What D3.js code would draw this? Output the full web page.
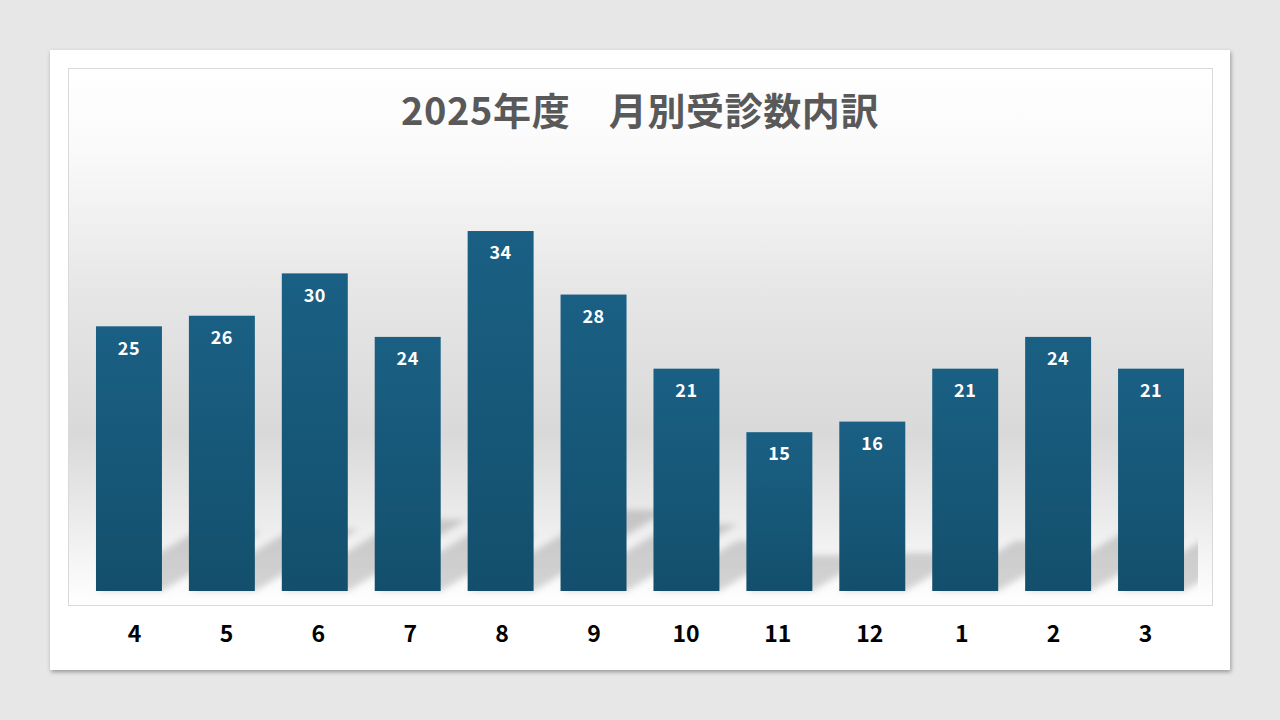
<!DOCTYPE html>
<html><head><meta charset="utf-8">
<script src="https://cdn.jsdelivr.net/npm/d3@7"></script>
<style>
html,body{margin:0;padding:0;background:#e7e7e7;}
svg{display:block;}
text{font-family:"Noto Sans CJK JP","Noto Sans",sans-serif;}
</style></head>
<body>
<svg id="chart" width="1280" height="720"></svg>
<script>
const titleText = "2025年度　月別受診数内訳";
const months = ["4","5","6","7","8","9","10","11","12","1","2","3"];
const visits = [25,26,30,24,34,28,21,15,16,21,24,21];

const svg = d3.select("#chart");
const defs = svg.append("defs");

// card shadow
const cs = defs.append("filter").attr("id","cardShadow").attr("x","-5%").attr("y","-5%").attr("width","110%").attr("height","115%");
cs.append("feDropShadow").attr("dx",1).attr("dy",2).attr("stdDeviation",2).attr("flood-color","#000").attr("flood-opacity",0.35);

// plot background gradient
const bg = defs.append("linearGradient").attr("id","bgGrad").attr("x1",0).attr("y1",0).attr("x2",0).attr("y2",1);
[[0,"#ffffff"],[0.15,"#fafafa"],[0.42,"#e6e6e6"],[0.68,"#d9d9d9"],[0.82,"#e9e9e9"],[0.93,"#f7f7f7"],[1,"#ffffff"]]
  .forEach(([o,c])=>bg.append("stop").attr("offset",o).attr("stop-color",c));

// bar gradient
const bgBar = defs.append("linearGradient").attr("id","barGrad").attr("x1",0).attr("y1",0).attr("x2",0).attr("y2",1);
bgBar.append("stop").attr("offset",0).attr("stop-color","#1a6084");
bgBar.append("stop").attr("offset",1).attr("stop-color","#134f6c");

// shadow blur
const sb = defs.append("filter").attr("id","shBlur").attr("x","-30%").attr("y","-30%").attr("width","160%").attr("height","160%");
sb.append("feGaussianBlur").attr("stdDeviation",3);

defs.append("clipPath").attr("id","plotClip").append("rect")
  .attr("x",69).attr("y",69).attr("width",1129).attr("height",536);

// card
svg.append("rect").attr("x",50).attr("y",50).attr("width",1180).attr("height",620)
  .attr("fill","#ffffff").attr("filter","url(#cardShadow)");

// plot frame
svg.append("rect").attr("x",68.5).attr("y",68.5).attr("width",1144).attr("height",537)
  .attr("fill","url(#bgGrad)").attr("stroke","#d9d9d9").attr("stroke-width",1);

// scales
const baseline = 591;
const x = d3.scaleBand().domain(months).range([82.5,1197.5]).paddingInner(0.29).paddingOuter(0.145);
const y = d3.scaleLinear().domain([0,40]).range([baseline, baseline - 423.5]);
const xLab = d3.scalePoint().domain(months).range([134,1145]);

const data = months.map((m,i)=>({m, v:visits[i]}));

// perspective shadows (cast to the upper right)
svg.append("g").attr("clip-path","url(#plotClip)")
  .selectAll("path").data(data).join("path")
  .attr("d", d=>{
    const x0 = x(d.m), x1 = x0 + x.bandwidth();
    const H = baseline - y(d.v);
    const h = H*0.225, dx = h/0.6;
    return `M${x0},${baseline}L${x1},${baseline}L${x1+dx},${baseline-h}L${x0+dx},${baseline-h}Z`;
  })
  .attr("fill","#000").attr("fill-opacity",0.16).attr("filter","url(#shBlur)");

// bars
svg.append("g").selectAll("rect").data(data).join("rect")
  .attr("x", d=>x(d.m)).attr("width", x.bandwidth())
  .attr("y", d=>y(d.v)).attr("height", d=>baseline - y(d.v))
  .attr("fill","url(#barGrad)");

// value labels
svg.append("g").selectAll("text").data(data).join("text")
  .attr("x", d=>x(d.m)+x.bandwidth()/2)
  .attr("y", d=>y(d.v)+22)
  .attr("dy","0.35em")
  .attr("text-anchor","middle")
  .attr("fill","#ffffff").attr("font-weight",700).attr("font-size",18).attr("letter-spacing",0.5)
  .text(d=>d.v);

// x axis labels
const xAxis = d3.axisBottom(xLab).tickSize(0).tickPadding(0);
const gx = svg.append("g").attr("transform",`translate(0,${634})`).call(xAxis);
gx.select(".domain").remove();
gx.selectAll("text").attr("dy","0.35em").attr("y",0)
  .attr("font-family","Noto Sans CJK JP").attr("font-size",23).attr("font-weight",700).attr("fill","#000000");

// title
svg.append("text").attr("x",640).attr("y",112).attr("dy","0.35em")
  .attr("text-anchor","middle").attr("font-size",38).attr("font-weight",700).attr("fill","#595959")
  .attr("letter-spacing",0.6)
  .text(titleText);
</script>
</body></html>
